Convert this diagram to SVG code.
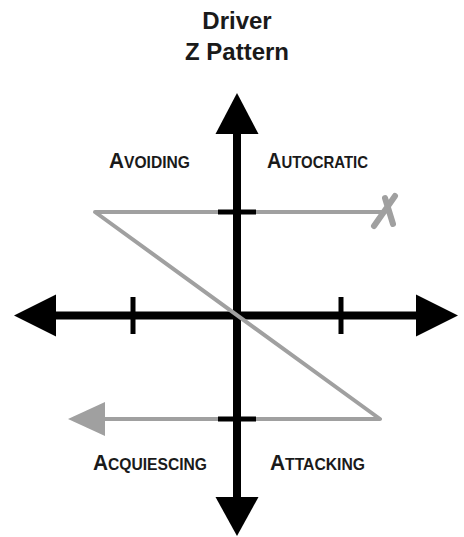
<svg xmlns="http://www.w3.org/2000/svg" width="464" height="537" viewBox="0 0 464 537">
<style>
.t{font-family:"Liberation Sans",Arial,sans-serif;font-weight:bold;fill:#1a1a1a}
.title{font-size:24px;text-anchor:middle}
.q{font-size:16.5px}
.big{font-size:22px}
.axis{stroke:#000;stroke-width:8;fill:none}
.tick{stroke:#000;stroke-width:5;fill:none}
.z{stroke:#a0a0a0;stroke-width:4;fill:none;stroke-linejoin:round}
</style>
<rect width="464" height="537" fill="#fff"/>
<g id="title">
<text class="t title" x="237" y="29">Driver</text>
<text class="t title" x="237" y="60">Z Pattern</text>
</g>
<g id="connectors">
<g id="axes">
<line class="axis" x1="50" y1="315.5" x2="424" y2="315.5"/>
<polygon points="14,315.5 56,294.5 56,336.5" fill="#000"/>
<polygon points="458,315.5 416,294.5 416,336.5" fill="#000"/>
<line class="axis" x1="237" y1="128" x2="237" y2="503"/>
<polygon points="237,93 215.5,134 258.5,134" fill="#000"/>
<polygon points="237,536 215.5,497 258.5,497" fill="#000"/>
<line class="tick" x1="133" y1="297" x2="133" y2="334"/>
<line class="tick" x1="341" y1="297" x2="341" y2="334"/>
</g>
<g id="z-path">
<polyline class="z" points="384,212 95,212 380,419 100,419"/>
<polygon points="68,419 105,402 105,436" fill="#a0a0a0"/>
<path d="M395,196 L374,226 M385,198 L393,224" stroke="#a0a0a0" stroke-width="6" stroke-linecap="round" fill="none"/>
</g>
<line class="tick" x1="218" y1="212" x2="256" y2="212"/>
<line class="tick" x1="218" y1="419" x2="256" y2="419"/>
</g>
<g id="avoiding"><text class="t q" x="109" y="168" textLength="81" lengthAdjust="spacingAndGlyphs"><tspan class="big">A</tspan>VOIDING</text></g>
<g id="autocratic"><text class="t q" x="267" y="168" textLength="101" lengthAdjust="spacingAndGlyphs"><tspan class="big">A</tspan>UTOCRATIC</text></g>
<g id="acquiescing"><text class="t q" x="93" y="470" textLength="114" lengthAdjust="spacingAndGlyphs"><tspan class="big">A</tspan>CQUIESCING</text></g>
<g id="attacking"><text class="t q" x="270" y="470" textLength="95" lengthAdjust="spacingAndGlyphs"><tspan class="big">A</tspan>TTACKING</text></g>
</svg>
